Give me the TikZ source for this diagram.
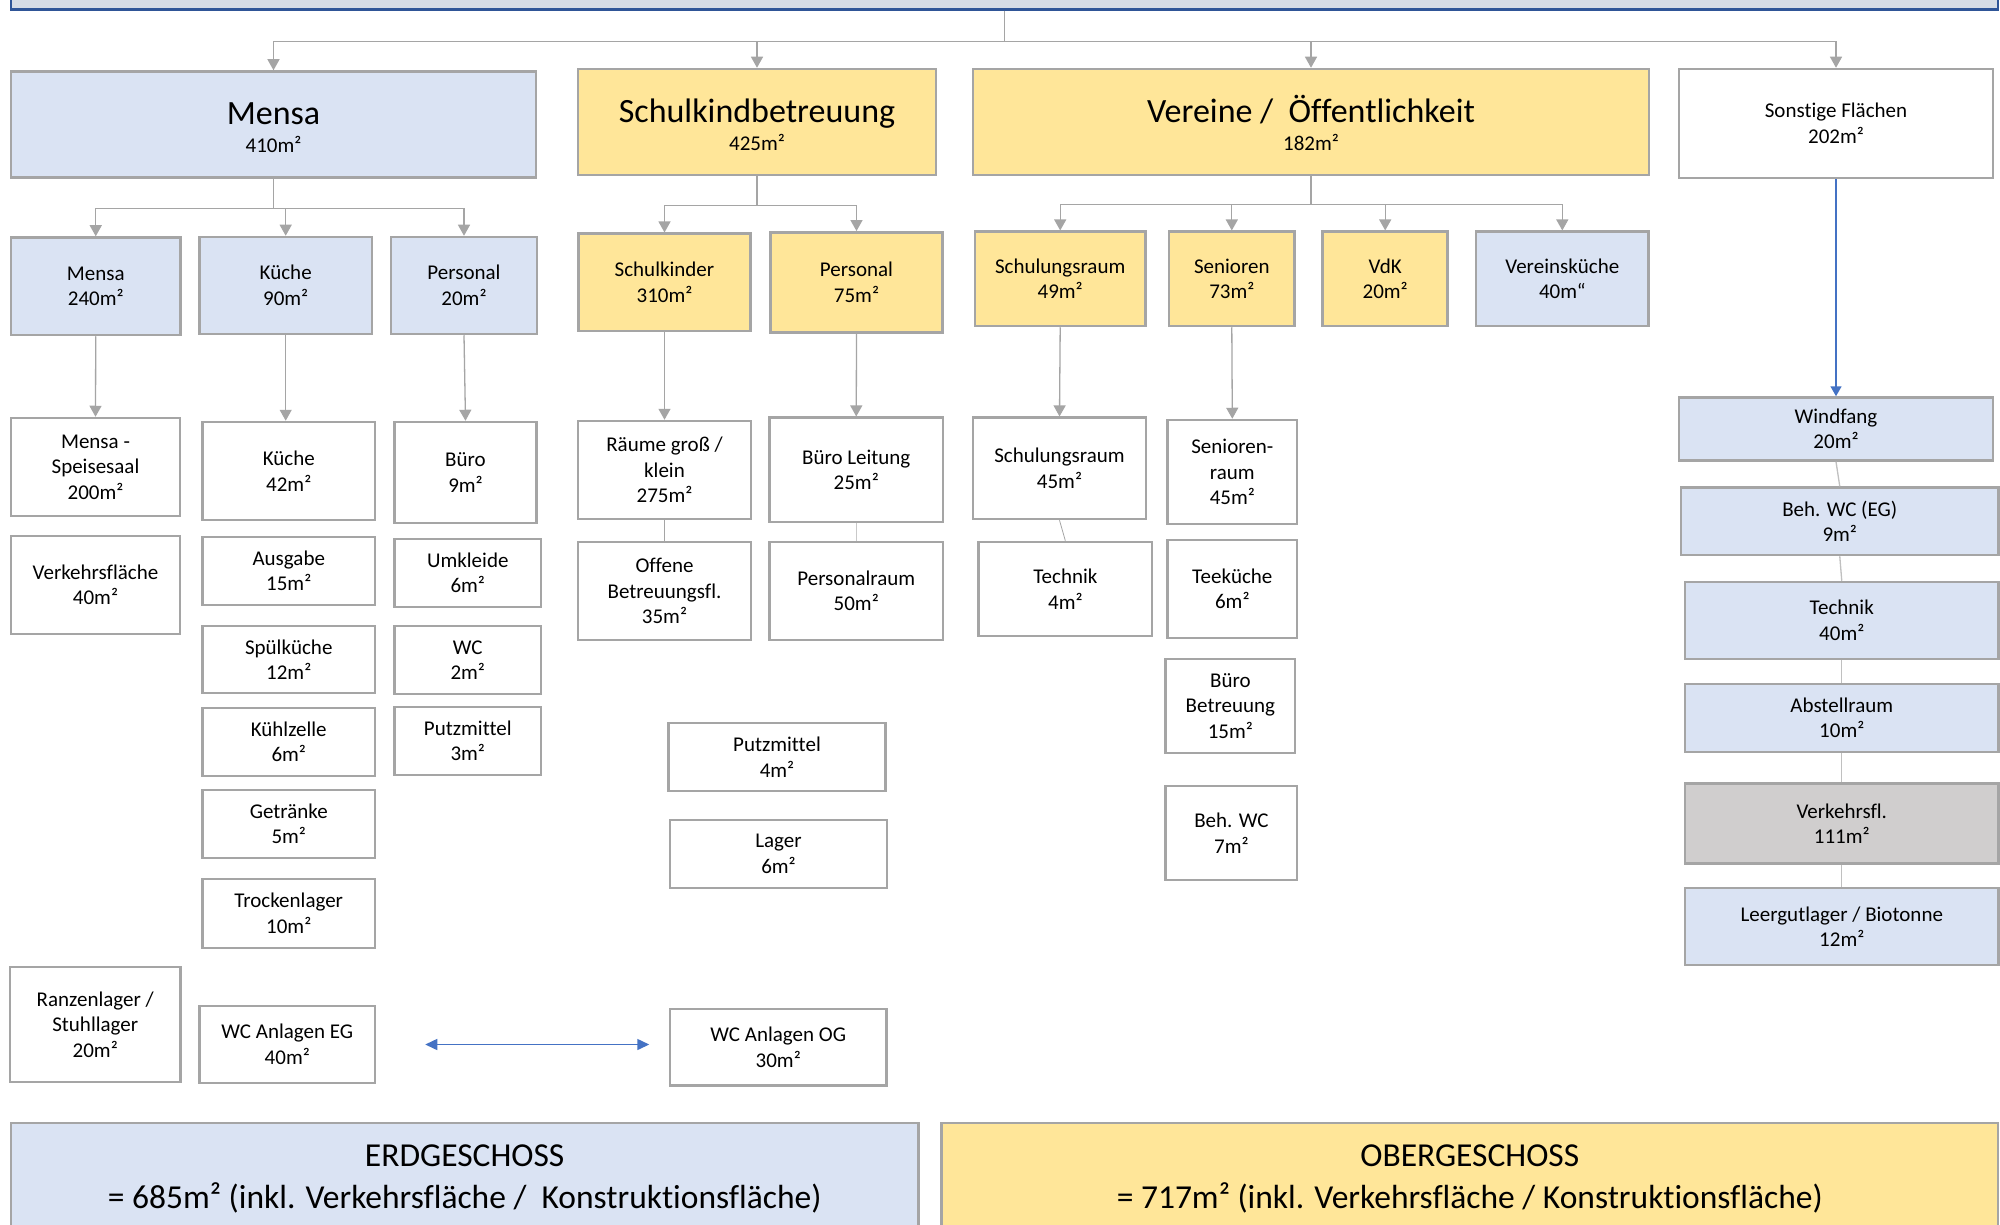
\documentclass[tikz,border=0pt]{standalone}
\usepackage{fontspec}
\setmainfont{Carlito}[Ligatures={NoCommon}]
\usetikzlibrary{arrows.meta}
\definecolor{bluefill}{HTML}{DAE3F3}
\definecolor{yellowfill}{HTML}{FFE699}
\definecolor{grayfill}{HTML}{D0CECE}
\definecolor{bordergray}{HTML}{A5A5A5}
\definecolor{linegray}{HTML}{A5A5A5}
\definecolor{lineblue}{HTML}{4472C4}
\definecolor{framefill}{HTML}{D6DCE5}
\definecolor{frameblue}{HTML}{2F5597}
\tikzset{
  room/.style={draw=bordergray, line width=2.5pt, inner sep=2pt, align=center,
    font=\fontsize{21}{25.5}\selectfont, text=black},
  roomblue/.style={room, fill=bluefill},
  roomyellow/.style={room, fill=yellowfill},
  roomwhite/.style={room, fill=white},
  roomgray/.style={room, fill=grayfill},
  headbox/.style={font=\fontsize{21}{28}\selectfont},
  floorbox/.style={font=\fontsize{33.5}{42}\selectfont},
  topframe/.style={draw=frameblue, fill=framefill, line width=2.5pt},
  conn/.style={draw=linegray, line width=1.3pt},
  arr/.style={conn, -{Triangle[width=12pt,length=11pt]}},
  bluearr/.style={draw=lineblue, line width=1.5pt, -{Triangle[width=11pt,length=10pt]}},
  bluedbl/.style={draw=lineblue, line width=1.5pt, {Triangle[width=11pt,length=12pt]}-{Triangle[width=11pt,length=12pt]}}
}
\newcommand\roombox[7]{\node[#6, minimum width={#4-#2}, minimum height={#5-#3}] (#1) at ({(#2+#4)/2},{(#3+#5)/2}) {#7};}
\newcommand\headline[1]{{\fontsize{34}{34}\selectfont\rule{0pt}{29pt}#1}}
\begin{document}
\begin{tikzpicture}[x=1pt,y=-1pt]
\useasboundingbox (0,0) rectangle (2000,1225);
\clip (0,0) rectangle (2000,1225);
\fill[white] (0,0) rectangle (2000,1225);

% top frame
\roombox{top}{11}{-30}{1998}{9.5}{topframe}{}

% level 1
\roombox{mensa}{11}{71.5}{536}{177.5}{roomblue,headbox}{\headline{Mensa}\\410m²}
\roombox{skb}{578}{69}{936}{175}{roomyellow,headbox}{\headline{Schulkindbetreuung}\\425m²}
\roombox{ver}{973}{69}{1649}{175}{roomyellow,headbox}{\headline{Vereine /\ \ Öffentlichkeit}\\182m²}
\roombox{sonst}{1679}{69}{1993}{178}{roomwhite}{Sonstige Flächen\\202m²}

% level 2
\roombox{m240}{11}{237.5}{180.5}{335}{roomblue}{Mensa\\240m²}
\roombox{k90}{199.6}{237}{371.8}{334}{roomblue}{Küche\\90m²}
\roombox{p20}{391}{237}{537}{334}{roomblue}{Personal\\20m²}
\roombox{sk310}{578.4}{233.7}{750.6}{331}{roomyellow}{Schulkinder\\310m²}
\roombox{p75}{770.4}{232.3}{942.6}{332.3}{roomyellow}{Personal\\75m²}
\roombox{sr49}{975}{231.7}{1145.4}{326}{roomyellow}{Schulungsraum\\49m²}
\roombox{sen73}{1169}{231.7}{1294.6}{326}{roomyellow}{Senioren\\73m²}
\roombox{vdk}{1322.7}{231.7}{1447.7}{326}{roomyellow}{VdK\\20m²}
\roombox{vk}{1476}{231.7}{1648.6}{326}{roomblue}{Vereinsküche\\40m“}

% Mensa column
\roombox{speise}{11}{418}{180}{516}{roomwhite}{Mensa -\\Speisesaal\\200m²}
\roombox{verk40}{11}{536}{180}{634}{roomwhite}{Verkehrsfläche\\40m²}
\roombox{ranzen}{10}{967}{180.5}{1082}{roomwhite}{Ranzenlager /\\Stuhllager\\20m²}
\roombox{k42}{202.5}{422}{375}{520}{roomwhite}{Küche\\42m²}
\roombox{ausgabe}{202.5}{537}{375}{605}{roomwhite}{Ausgabe\\15m²}
\roombox{spuel}{202.5}{626}{375}{693}{roomwhite}{Spülküche\\12m²}
\roombox{kuehl}{202.5}{708}{375}{776}{roomwhite}{Kühlzelle\\6m²}
\roombox{getr}{202.5}{790}{375}{858}{roomwhite}{Getränke\\5m²}
\roombox{trocken}{202.5}{879}{375}{948}{roomwhite}{Trockenlager\\10m²}
\roombox{wceg}{199.6}{1006}{375}{1083}{roomwhite}{WC Anlagen EG\\40m²}
\roombox{buero9}{394.6}{422}{536.4}{523}{roomwhite}{Büro\\9m²}
\roombox{umkl}{394.6}{539}{541}{607}{roomwhite}{Umkleide\\6m²}
\roombox{wc2}{394.6}{626}{541}{694}{roomwhite}{WC\\2m²}
\roombox{putz3}{394.6}{707}{541}{775}{roomwhite}{Putzmittel\\3m²}

% Schulkind column
\roombox{raeume}{578}{421}{751}{519}{roomwhite}{Räume groß /\\klein\\275m²}
\roombox{offene}{578}{542}{751}{640}{roomwhite}{Offene\\Betreuungsfl.\\35m²}
\roombox{bleit}{769.5}{417.7}{943}{522}{roomwhite}{Büro Leitung\\25m²}
\roombox{praum}{769.5}{542}{943}{640}{roomwhite}{Personalraum\\50m²}
\roombox{putz4}{668.6}{723}{885.4}{791}{roomwhite}{Putzmittel\\4m²}
\roombox{lager}{670}{820}{887}{888}{roomwhite}{Lager\\6m²}
\roombox{wcog}{670}{1009}{886.5}{1085.7}{roomwhite}{WC Anlagen OG\\30m²}

% Vereine column
\roombox{sr45}{973}{417.7}{1146}{519}{roomwhite}{Schulungsraum\\45m²}
\roombox{tech4}{978.7}{542}{1152}{636}{roomwhite}{Technik\\4m²}
\roombox{senraum}{1167.6}{420}{1297}{524}{roomwhite}{Senioren-\\raum\\45m²}
\roombox{teek}{1167.6}{540}{1297}{638}{roomwhite}{Teeküche\\6m²}
\roombox{bbetr}{1165.7}{659}{1295}{753}{roomwhite}{Büro\\Betreuung\\15m²}
\roombox{behwc}{1165.7}{786}{1297}{880}{roomwhite}{Beh. WC\\7m²}

% Sonstige column
\roombox{windf}{1679}{397.5}{1993}{460.5}{roomblue}{Windfang\\20m²}
\roombox{behwceg}{1681}{487.5}{1998.5}{555}{roomblue}{Beh. WC (EG)\\9m²}
\roombox{tech40}{1685}{582}{1998.5}{659}{roomblue}{Technik\\40m²}
\roombox{abst}{1685}{684}{1998.5}{752}{roomblue}{Abstellraum\\10m²}
\roombox{verkfl}{1685}{783.5}{1998.5}{863.5}{roomgray}{Verkehrsfl.\\111m²}
\roombox{leer}{1685}{888}{1998.5}{965}{roomblue}{Leergutlager / Biotonne\\12m²}

% floor totals
\roombox{eg}{11}{1123}{918.4}{1235}{roomblue,floorbox}{ERDGESCHOSS\\= 685m² (inkl. Verkehrsfläche /\ \ Konstruktionsfläche)}
\roombox{og}{941.6}{1123}{1998}{1235}{roomyellow,floorbox}{OBERGESCHOSS\\= 717m² (inkl. Verkehrsfläche / Konstruktionsfläche)}

% connectors: top level
\path (top.south) ++(0,30.5) coordinate (h0);
\draw[arr] (top.south) -- (h0) -| (mensa.north);
\draw[arr] (h0) -| (skb.north);
\draw[arr] (h0) -| (ver.north);
\draw[arr] (h0) -| (sonst.north);

% Mensa branch
\path (mensa.south) ++(0,30) coordinate (h1);
\draw[arr] (mensa.south) -- (h1) -| (m240.north);
\draw[arr] (h1) -| (k90.north);
\draw[arr] (h1) -| (p20.north);

% Schulkind branch
\path (skb.south) ++(0,29) coordinate (h2);
\draw[arr] (skb.south) -- (h2) -| (sk310.north);
\draw[arr] (h2) -| (p75.north);

% Vereine branch
\path (ver.south) ++(0,28) coordinate (h3);
\draw[arr] (ver.south) -- (h3) -| (sr49.north);
\draw[arr] (h3) -| (sen73.north);
\draw[arr] (h3) -| (vdk.north);
\draw[arr] (h3) -| (vk.north);

% level 2 to 3
\draw[arr] (m240.south) -- (speise.north);
\draw[arr] (k90.south) -- (k90.south |- k42.north);
\draw[arr] (p20.south) -- (buero9.north);
\draw[arr] (sk310.south) -- (raeume.north);
\draw[arr] (p75.south) -- (bleit.north);
\draw[arr] (sr49.south) -- (sr45.north);
\draw[arr] (sen73.south) -- (senraum.north);
\draw[bluearr] (sonst.south) -- (windf.north);

% plain links
\draw[conn] (raeume.south) -- (offene.north);
\draw[conn, draw=linegray!60] (bleit.south) -- (praum.north);
\draw[conn, line width=0.8pt] (sr45.south) -- (tech4.north);
\draw[conn, draw=linegray!70] (windf.south) -- (behwceg.north);
\draw[conn, draw=linegray!70] (behwceg.south) -- (tech40.north);
\draw[conn, draw=linegray!70] (tech40.south) -- (abst.north);
\draw[conn, draw=linegray!70] (abst.south) -- (verkfl.north);
\draw[conn, draw=linegray!70] (verkfl.south) -- (leer.north);

% WC link
\draw[bluedbl, shorten <=49pt, shorten >=19.5pt] (wceg.east) -- (wceg.east -| wcog.west);
\end{tikzpicture}
\end{document}
